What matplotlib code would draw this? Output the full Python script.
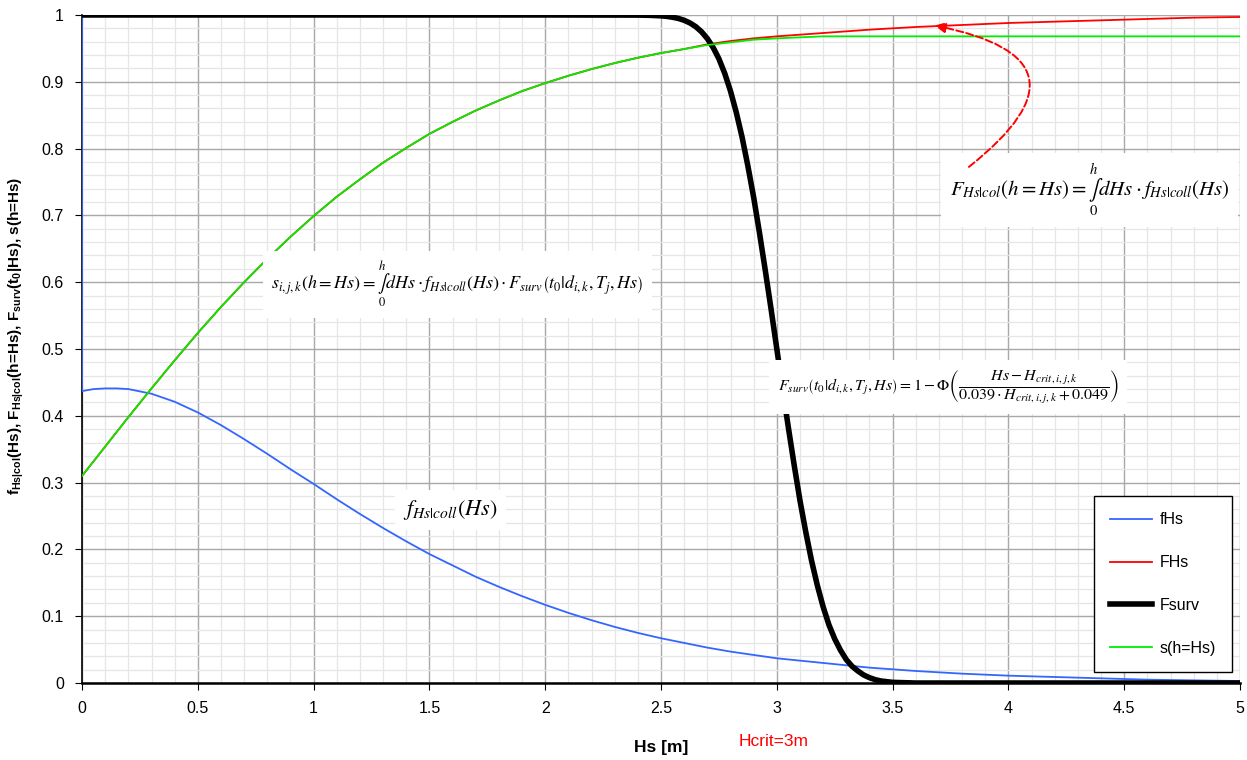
import numpy as np
import matplotlib
matplotlib.use("Agg")
import matplotlib.pyplot as plt
from matplotlib.patches import FancyArrowPatch
from matplotlib.ticker import MultipleLocator

plt.rcParams["font.family"] = ["Liberation Sans", "DejaVu Sans"]
plt.rcParams["mathtext.fontset"] = "custom"
plt.rcParams["mathtext.rm"] = "Liberation Sans"
plt.rcParams["mathtext.bf"] = "Liberation Sans:bold"

# fHs: density of Hs given collision (first point is the spike at x=0)
hs_f = [0.0, 0.0, 0.05, 0.1, 0.15, 0.2, 0.3, 0.4, 0.5, 0.6, 0.7, 0.8, 0.9, 1.0, 1.1,
        1.2, 1.3, 1.4, 1.5, 1.6, 1.7, 1.8, 1.9, 2.0, 2.1, 2.2, 2.3, 2.4, 2.5, 2.6,
        2.7, 2.8, 2.9, 3.0, 3.2, 3.4, 3.6, 3.8, 4.0, 4.2, 4.4, 4.6, 4.8, 5.0]
f_hs = [1.0, 0.437, 0.440, 0.441, 0.441, 0.440, 0.433, 0.421, 0.405, 0.386, 0.365,
        0.343, 0.320, 0.298, 0.275, 0.253, 0.232, 0.212, 0.193, 0.176, 0.159, 0.144,
        0.130, 0.117, 0.105, 0.094, 0.084, 0.075, 0.067, 0.060, 0.053, 0.047, 0.042,
        0.037, 0.030, 0.023, 0.018, 0.014, 0.011, 0.009, 0.007, 0.005, 0.004, 0.003]

# FHs and s(h=Hs)
hs_c = [0.0, 0.1, 0.2, 0.3, 0.4, 0.5, 0.6, 0.7, 0.8, 0.9, 1.0, 1.1, 1.2, 1.3, 1.4,
        1.5, 1.6, 1.7, 1.8, 1.9, 2.0, 2.1, 2.2, 2.3, 2.4, 2.5, 2.6, 2.7, 2.8, 2.9,
        3.0, 3.2, 3.4, 3.6, 3.8, 4.0, 4.2, 4.4, 4.6, 4.8, 5.0]
F_hs = [0.310, 0.354, 0.398, 0.441, 0.483, 0.524, 0.563, 0.600, 0.635, 0.668, 0.699,
        0.728, 0.754, 0.779, 0.801, 0.822, 0.840, 0.857, 0.872, 0.886, 0.898, 0.909,
        0.919, 0.928, 0.936, 0.943, 0.949, 0.956, 0.961, 0.965, 0.968, 0.973, 0.978,
        0.982, 0.985, 0.988, 0.990, 0.992, 0.994, 0.996, 0.997]
s_hs = [0.310, 0.354, 0.398, 0.441, 0.483, 0.524, 0.563, 0.600, 0.635, 0.668, 0.699,
        0.728, 0.754, 0.779, 0.801, 0.822, 0.840, 0.857, 0.872, 0.886, 0.898, 0.909,
        0.919, 0.928, 0.936, 0.943, 0.949, 0.955, 0.959, 0.963, 0.965, 0.968, 0.968,
        0.968, 0.968, 0.968, 0.968, 0.968, 0.968, 0.968, 0.968]

# Fsurv
hs_s = [0.0, 1.0, 2.0, 2.4, 2.45, 2.5, 2.525, 2.55, 2.575, 2.6, 2.625, 2.65, 2.675,
        2.7, 2.725, 2.75, 2.775, 2.8, 2.825, 2.85, 2.875, 2.9, 2.925, 2.95, 2.975,
        3.0, 3.025, 3.05, 3.075, 3.1, 3.125, 3.15, 3.175, 3.2, 3.225, 3.25, 3.275,
        3.3, 3.325, 3.35, 3.375, 3.4, 3.425, 3.45, 3.475, 3.5, 3.6, 4.0, 5.0]
F_surv = [1.0, 1.0, 1.0, 0.9998, 0.9995, 0.9987, 0.9979, 0.9966, 0.9948, 0.992,
          0.988, 0.9825, 0.9748, 0.9646, 0.9513, 0.9343, 0.9126, 0.886, 0.854, 0.817,
          0.774, 0.727, 0.674, 0.618, 0.560, 0.5, 0.440, 0.382, 0.326, 0.273, 0.226,
          0.183, 0.146, 0.114, 0.087, 0.066, 0.049, 0.035, 0.025, 0.018, 0.012, 0.008,
          0.005, 0.003, 0.002, 0.001, 0.0, 0.0, 0.0]

fig = plt.figure(figsize=(12.47, 7.6), dpi=100)
ax = fig.add_axes([0.0658, 0.1013, 0.9286, 0.8790])

ax.plot(hs_f, f_hs, color="#3366ff", lw=1.3, label="fHs", zorder=3)
ax.plot(hs_c, F_hs, color="#ff0000", lw=1.3, label="FHs", zorder=3)
ax.plot(hs_s, F_surv, color="black", lw=4, label="Fsurv", zorder=3,
        solid_joinstyle="round")
ax.plot(hs_c, s_hs, color="#00ee00", lw=1.3, label="s(h=Hs)", zorder=3)

ax.set_xlim(0, 5)
ax.set_ylim(0, 1)
ax.xaxis.set_major_locator(MultipleLocator(0.5))
ax.xaxis.set_minor_locator(MultipleLocator(0.1))
ax.yaxis.set_major_locator(MultipleLocator(0.1))
ax.yaxis.set_minor_locator(MultipleLocator(0.02))
ax.xaxis.set_major_formatter(lambda v, p: f"{v:g}")
ax.yaxis.set_major_formatter(lambda v, p: f"{v:g}")
ax.grid(which="major", color="#a8a8a8", lw=1.0)
ax.grid(which="minor", color="#e6e6e6", lw=0.9)
ax.set_axisbelow(True)
ax.tick_params(which="major", direction="out", length=5, labelsize=11.5, pad=8)
ax.tick_params(which="minor", length=0)
for side in ["top", "right"]:
    ax.spines[side].set_visible(False)
ax.spines["left"].set_linewidth(1.2)
ax.spines["bottom"].set_linewidth(1.8)

ax.set_xlabel("Hs [m]", fontsize=12.5, fontweight="bold", labelpad=17)
fig.text(0.592, 0.018, "Hcrit=3m", color="red", fontsize=12.5)
ax.set_ylabel(r"f$_{\mathbf{Hs|col}}$(Hs), F$_{\mathbf{Hs|col}}$(h=Hs), "
              r"F$_{\mathbf{surv}}$(t$_{\mathbf{0}}$|Hs), s(h=Hs)",
              fontsize=11, fontweight="bold")
ax.yaxis.set_label_coords(-0.048, 0.52)

box = dict(facecolor="white", edgecolor="none", pad=6)
integral = r"\underset{0}{\overset{h}{\int}}"
ax.text(4.35, 0.738,
        r"$F_{Hs|col}\left(h=Hs\right)=" + integral + r"dHs\cdot f_{Hs|coll}\left(Hs\right)$",
        fontsize=15, math_fontfamily="stix", ha="center", va="center", bbox=box, zorder=5)
ax.text(3.74, 0.443,
        r"$F_{surv}\left(t_0|d_{i,k},T_j,Hs\right)=1-\Phi\left(\dfrac{Hs-H_{crit,i,j,k}}{0.039\cdot H_{crit,i,j,k}+0.049}\right)$",
        fontsize=11.5, math_fontfamily="stix", ha="center", va="center", bbox=box, zorder=5)
ax.text(1.62, 0.596,
        r"$s_{i,j,k}\left(h=Hs\right)=" + integral +
        r"dHs\cdot f_{Hs|coll}\left(Hs\right)\cdot F_{surv}\left(t_0|d_{i,k},T_j,Hs\right)$",
        fontsize=13, math_fontfamily="stix", ha="center", va="center", bbox=box, zorder=5)
ax.text(1.59, 0.259, r"$f_{Hs|coll}\left(Hs\right)$",
        fontsize=16, math_fontfamily="stix", ha="center", va="center", bbox=box, zorder=5)

arrow = FancyArrowPatch((3.82, 0.77), (3.67, 0.985), connectionstyle="arc3,rad=1.1",
                        arrowstyle="-|>", mutation_scale=16, color="red", lw=1.4,
                        linestyle="--", zorder=6)
ax.add_patch(arrow)

leg = ax.legend(loc="lower right", bbox_to_anchor=(0.993, 0.0165), fontsize=11.5,
                frameon=True, fancybox=False, edgecolor="black", framealpha=1,
                labelspacing=1.75, handlelength=2.6, handletextpad=0.5,
                borderpad=1.0, borderaxespad=0)
leg.get_frame().set_linewidth(1.0)

fig.savefig("out.png", dpi=100)
